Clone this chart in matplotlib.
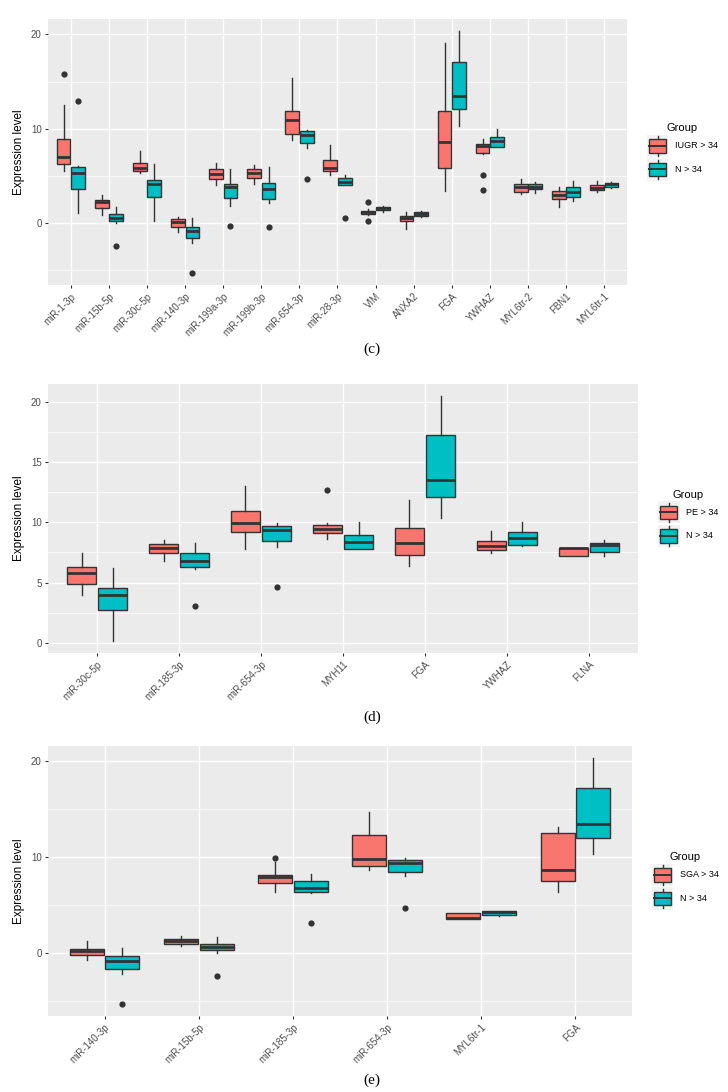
import matplotlib
matplotlib.use("Agg")
import matplotlib.pyplot as plt
from matplotlib.legend_handler import HandlerBase
from matplotlib.patches import Rectangle
from matplotlib.lines import Line2D
from matplotlib.ticker import MultipleLocator

plt.rcParams['font.family'] = ['Liberation Sans', 'DejaVu Sans']

RED = "#F8766D"
CYAN = "#00BFC4"
DARK = "#333333"

# ---- data: rows are [whisker low, q1, median, q3, whisker high] ----
c_genes = ["miR-1-3p", "miR-15b-5p", "miR-30c-5p", "miR-140-3p", "miR-199a-3p",
           "miR-199b-3p", "miR-654-3p", "miR-28-3p", "VIM", "ANXA2", "FGA",
           "YWHAZ", "MYL6tr-2", "FBN1", "MYL6tr-1"]
c_iugr = [[5.56, 6.24, 7.05, 8.9, 12.5],
          [0.85, 1.63, 2.2, 2.45, 2.94],
          [5.28, 5.53, 5.82, 6.42, 7.66],
          [-0.92, -0.46, 0.14, 0.46, 0.67],
          [4.01, 4.72, 5.25, 5.74, 6.35],
          [4.11, 4.75, 5.35, 5.7, 6.2],
          [8.8, 9.47, 10.9, 11.9, 15.4],
          [5.14, 5.53, 5.82, 6.7, 8.3],
          [0.86, 0.92, 1.14, 1.31, 1.46],
          [-0.6, 0.18, 0.5, 0.74, 1.17],
          [3.4, 5.89, 8.55, 11.88, 19.1],
          [7.34, 7.48, 8.12, 8.33, 8.9],
          [3.09, 3.26, 3.8, 4.11, 4.68],
          [1.74, 2.55, 2.98, 3.4, 3.8],
          [3.26, 3.48, 3.76, 4.04, 4.47]]
c_iugr_out = [[15.8], [], [], [], [], [], [], [], [2.23, 0.25], [], [],
              [5.07, 3.55], [], [], []]
c_n = [[1.03, 3.58, 5.35, 5.96, 6.0],
       [0.03, 0.25, 0.53, 0.92, 1.67],
       [0.21, 2.73, 4.11, 4.57, 6.28],
       [-2.16, -1.63, -0.85, -0.39, 0.5],
       [1.81, 2.66, 3.86, 4.15, 5.74],
       [2.09, 2.55, 3.62, 4.29, 5.99],
       [7.94, 8.47, 9.36, 9.71, 9.82],
       [4.0, 4.04, 4.4, 4.75, 5.1],
       [1.17, 1.35, 1.56, 1.74, 1.8],
       [0.67, 0.74, 0.99, 1.17, 1.31],
       [10.3, 12.06, 13.5, 17.1, 20.35],
       [8.05, 8.09, 8.65, 9.15, 9.96],
       [3.16, 3.65, 3.86, 4.11, 4.4],
       [2.34, 2.8, 3.26, 3.8, 4.47],
       [3.76, 3.86, 4.15, 4.29, 4.36]]
c_n_out = [[12.9], [-2.45], [], [-5.28], [-0.28], [-0.39], [4.68], [0.53],
           [], [], [], [], [], [], []]

d_genes = ["miR-30c-5p", "miR-185-3p", "miR-654-3p", "MYH11", "FGA", "YWHAZ", "FLNA"]
d_pe = [[3.99, 4.93, 5.84, 6.34, 7.49],
        [6.83, 7.44, 7.9, 8.2, 8.54],
        [7.8, 9.23, 9.92, 10.96, 13.0],
        [8.6, 9.09, 9.42, 9.81, 9.97],
        [6.42, 7.27, 8.32, 9.5, 11.85],
        [7.49, 7.74, 8.04, 8.43, 9.31],
        [7.25, 7.25, 7.85, 7.88, 7.88]]
d_pe_out = [[], [], [], [12.67], [], [], []]
d_n = [[0.19, 2.75, 3.99, 4.6, 6.25],
       [6.17, 6.34, 6.78, 7.49, 8.26],
       [7.93, 8.48, 9.37, 9.72, 9.97],
       [7.77, 7.77, 8.35, 8.95, 10.0],
       [10.33, 12.07, 13.5, 17.19, 20.44],
       [8.04, 8.1, 8.7, 9.2, 10.0],
       [7.22, 7.58, 8.15, 8.32, 8.51]]
d_n_out = [[], [3.11], [4.68], [], [], [], []]

e_genes = ["miR-140-3p", "miR-15b-5p", "miR-185-3p", "miR-654-3p", "MYL6tr-1", "FGA"]
e_sga = [[-0.7, -0.24, 0.21, 0.45, 1.22],
         [0.7, 0.98, 1.26, 1.43, 1.81],
         [6.39, 7.26, 7.96, 8.17, 9.5],
         [8.66, 9.11, 9.77, 12.29, 14.69],
         [3.56, 3.56, 3.62, 4.15, 4.15],
         [6.35, 7.5, 8.66, 12.5, 13.09]]
e_sga_out = [[], [], [9.88], [], [], []]
e_n = [[-2.2, -1.64, -0.87, -0.31, 0.49],
       [0.0, 0.28, 0.66, 0.94, 1.68],
       [6.21, 6.39, 6.81, 7.5, 8.27],
       [8.03, 8.48, 9.42, 9.74, 9.95],
       [3.84, 3.91, 4.26, 4.36, 4.36],
       [10.3, 12.04, 13.5, 17.17, 20.31]]
e_n_out = [[-5.3], [-2.44], [3.14], [4.71], [], []]


class BoxKey(HandlerBase):
    # ggplot-like boxplot legend key
    def create_artists(self, legend, orig_handle, xdescent, ydescent,
                       width, height, fontsize, trans):
        x0, y0 = -xdescent, -ydescent
        bg = Rectangle((x0, y0), width, height, facecolor="#F2F2F2",
                       edgecolor="none", transform=trans)
        cx = x0 + width / 2
        whisk = Line2D([cx, cx], [y0 + 0.06 * height, y0 + 0.94 * height],
                       color=DARK, lw=1.0, transform=trans)
        box = Rectangle((x0 + 0.1 * width, y0 + 0.2 * height), 0.8 * width,
                        0.6 * height, facecolor=orig_handle.get_facecolor(),
                        edgecolor=DARK, lw=1.0, transform=trans)
        med = Line2D([x0 + 0.1 * width, x0 + 0.9 * width],
                     [y0 + 0.5 * height] * 2, color=DARK, lw=1.4, transform=trans)
        return [bg, whisk, box, med]


def to_stats(rows, outs):
    return [dict(whislo=r[0], q1=r[1], med=r[2], q3=r[3], whishi=r[4], fliers=o)
            for r, o in zip(rows, outs)]


def draw_panel(rect, genes, g1, g1_out, g2, g2_out, names, major, minor, label, label_y):
    l, t, r, b = rect
    ax = fig.add_axes([l / 728, 1 - b / 1092, (r - l) / 728, (b - t) / 1092])
    ax.set_facecolor("#EBEBEB")
    pos = list(range(1, len(genes) + 1))
    for rows, outs, col, off in [(g1, g1_out, RED, -0.19), (g2, g2_out, CYAN, 0.19)]:
        ax.bxp(to_stats(rows, outs), positions=[p + off for p in pos], widths=0.36,
               patch_artist=True, showcaps=False, manage_ticks=False,
               boxprops=dict(facecolor=col, edgecolor=DARK, lw=1.0),
               medianprops=dict(color=DARK, lw=2.0),
               whiskerprops=dict(color=DARK, lw=1.0),
               flierprops=dict(marker="o", markerfacecolor=DARK, markeredgecolor="none",
                               markersize=4.5))
    allv = [v for rows in (g1, g2) for row in rows for v in row]
    allv += [v for outs in (g1_out, g2_out) for o in outs for v in o]
    lo, hi = min(allv), max(allv)
    pad = 0.05 * (hi - lo)
    ax.set_ylim(lo - pad, hi + pad)
    ax.set_xlim(0.4, len(genes) + 0.6)
    ax.set_xticks(pos)
    ax.set_xticklabels(genes, rotation=45, ha="right", va="top", rotation_mode="anchor")
    ax.yaxis.set_major_locator(MultipleLocator(major))
    ax.yaxis.set_minor_locator(MultipleLocator(minor))
    ax.set_axisbelow(True)
    ax.grid(True, which="major", color="white", lw=1.0)
    ax.grid(True, which="minor", axis="y", color="white", lw=0.5)
    ax.tick_params(axis="both", which="major", length=2.5, width=0.8, color=DARK,
                   labelsize=7, labelcolor="#4D4D4D", pad=2)
    ax.tick_params(axis="y", which="minor", length=0)
    for s in ax.spines.values():
        s.set_visible(False)
    ax.set_ylabel("Expression level", fontsize=8.5, labelpad=4)
    handles = [Rectangle((0, 0), 1, 1, facecolor=RED), Rectangle((0, 0), 1, 1, facecolor=CYAN)]
    ax.legend(handles, names, handler_map={Rectangle: BoxKey()}, title="Group",
              loc="center left", bbox_to_anchor=(1.02, 0.5), frameon=False,
              fontsize=6.5, title_fontsize=8, handlelength=2.4, handleheight=3.4,
              handletextpad=0.7, labelspacing=0.15)
    fig.text(372 / 728, 1 - label_y / 1092, label, ha="center", va="center",
             fontsize=11, family=["Liberation Serif", "DejaVu Serif"])
    return ax


fig = plt.figure(figsize=(7.28, 10.92), dpi=100)
draw_panel((48, 19, 627, 285), c_genes, c_iugr, c_iugr_out, c_n, c_n_out,
           ["IUGR > 34", "N > 34"], 10, 5, "(c)", 349)
draw_panel((48, 384, 638, 653), d_genes, d_pe, d_pe_out, d_n, d_n_out,
           ["PE > 34", "N > 34"], 5, 2.5, "(d)", 717)
draw_panel((48, 746, 632, 1016), e_genes, e_sga, e_sga_out, e_n, e_n_out,
           ["SGA > 34", "N > 34"], 10, 5, "(e)", 1080)

fig.savefig("out.png", dpi=100)
